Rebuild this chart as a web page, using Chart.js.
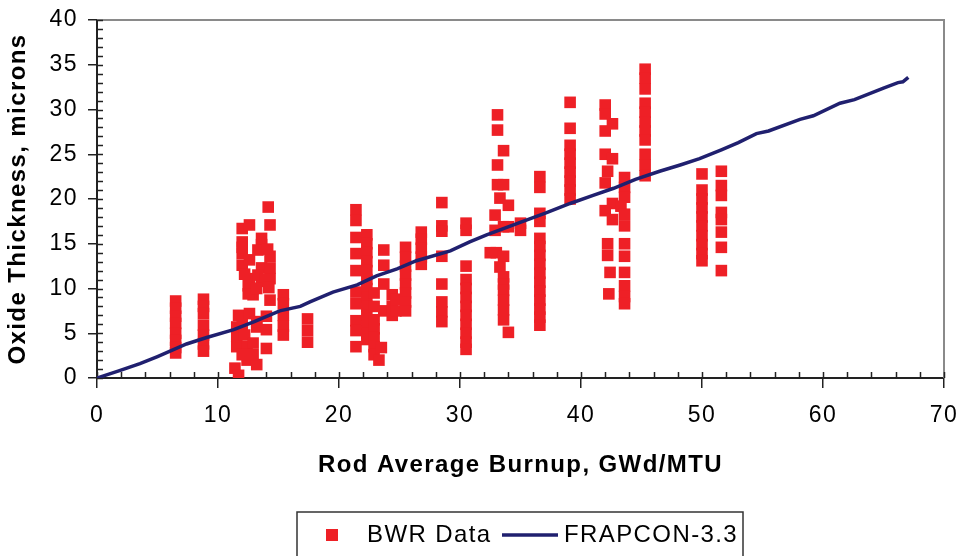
<!DOCTYPE html>
<html>
<head>
<meta charset="utf-8">
<script src="https://cdn.jsdelivr.net/npm/chart.js@4.4.1/dist/chart.umd.min.js"></script>
<style>
  html, body { margin: 0; padding: 0; background: #fff; }
  #wrap { width: 963px; height: 556px; position: relative; }
</style>
</head>
<body>
<div id="wrap"><canvas id="chart"></canvas></div>
<script>
const seriesNames = ["BWR Data", "FRAPCON-3.3"];
const xTitle = "Rod Average Burnup, GWd/MTU";
const yTitle = "Oxide Thickness, microns";

// measured BWR rods: burnup (GWd/MTU) and oxide (microns), one line per group
const bwrBurnup = [
    6.5, 6.5, 6.5, 6.5, 6.5, 6.5, 6.5, 6.5,
    8.8, 8.8, 8.8, 8.8, 8.8, 8.8, 8.8,
    11.4, 11.7, 11.55, 11.55, 11.55, 11.7, 12.0, 12.0, 12.0, 12.4,
    12.4, 12.6, 12.6, 12.6, 12.6, 12.9, 12.9, 13.2, 13.2, 13.2,
    13.6, 13.6, 13.6, 14.0, 14.0, 14.0, 14.15, 14.3, 14.3, 14.3,
    14.3, 14.3, 15.4, 15.4, 15.4, 15.4, 15.4,
    12.0, 12.0, 12.2, 12.5, 12.5, 13.3, 13.6, 14.1, 13.3, 13.9, 14.2, 13.2, 12.0, 12.2, 12.9, 12.9, 12.0,
    17.4, 17.4, 17.4,
    21.4, 21.4, 21.4, 21.4, 21.4, 21.4, 21.4, 21.4, 21.4, 21.4,
    22.3, 22.3, 22.3, 22.3, 22.3, 22.3, 22.3, 22.3, 22.3, 22.3, 22.3, 22.3, 22.3,
    22.9, 22.9, 22.9, 22.9, 22.9, 22.9, 22.9,
    23.7, 23.7, 23.7, 23.3, 23.5, 23.7, 24.4, 24.4, 24.4, 24.7, 24.7,
    25.5, 25.5, 25.5, 25.5, 25.5, 25.5, 25.5, 25.5,
    26.8, 26.8, 26.8, 26.8, 26.8,
    28.5, 28.5, 28.5, 28.5, 28.5, 28.5, 28.5, 28.5,
    30.5, 30.5, 30.5, 30.5, 30.5, 30.5, 30.5, 30.5, 30.5, 30.5, 30.5, 30.5,
    33.1, 33.1, 33.6, 33.1, 33.1, 33.6, 33.3, 34.0, 32.9, 33.6,
    34.0, 32.9, 32.5, 33.0, 33.6, 33.3, 33.6, 33.6, 33.6, 33.6,
    33.6, 33.6, 34.0,
    35.0, 35.0,
    36.6, 36.6, 36.6, 36.6, 36.6, 36.6, 36.6, 36.6, 36.6, 36.6, 36.6, 36.6, 36.6, 36.6, 36.6,
    39.1, 39.1, 39.1, 39.1, 39.1, 39.1, 39.1, 39.1, 39.1,
    42.0, 42.0, 42.6, 42.0, 42.0, 42.6, 42.2, 42.0, 42.6, 42.0, 42.6, 42.2, 42.2, 42.4, 42.3,
    43.6, 43.6, 43.6, 43.3, 43.6, 43.6, 43.6, 43.6, 43.6, 43.6, 43.6, 43.6,
    45.3, 45.3, 45.3, 45.3, 45.3, 45.3, 45.3, 45.3, 45.3, 45.3, 45.3,
    50.0, 50.0, 50.0, 50.0, 50.0, 50.0, 50.0, 50.0, 50.0, 50.0,
    51.6, 51.6, 51.6, 51.6, 51.6, 51.6, 51.6, 51.6,
];
const bwrOxide = [
    8.6, 7.8, 6.9, 6.1, 5.0, 4.2, 3.4, 2.8,
    8.8, 8.0, 7.2, 5.9, 4.8, 3.8, 3.0,
    1.1, 0.3, 3.5, 4.6, 5.7, 7.0, 12.6, 13.9, 16.7, 2.0,
    3.5, 7.2, 11.1, 13.2, 17.1, 10.0, 9.3, 1.5, 5.7, 6.3,
    12.3, 14.9, 10.8, 3.3, 5.4, 6.9, 19.1, 17.1, 13.6, 11.1,
    8.7, 12.3, 9.3, 8.3, 7.0, 5.8, 4.8,
    15.2, 14.6, 11.6, 10.3, 9.4, 14.3, 15.6, 14.4, 11.5, 11.0, 10.1, 10.0, 6.0, 4.8, 3.9, 2.6, 2.6,
    6.6, 5.3, 4.0,
    18.8, 17.6, 15.7, 13.9, 12.0, 9.6, 8.3, 6.4, 5.3, 3.5,
    16.0, 15.0, 14.0, 13.0, 12.0, 11.0, 10.0, 9.0, 8.0, 7.0, 6.0, 5.0, 4.3,
    9.5, 8.0, 6.5, 5.5, 4.5, 3.5, 2.6,
    14.3, 12.6, 10.5, 2.0, 3.4, 7.5, 9.3, 8.0, 7.0, 8.8, 7.5,
    14.6, 13.5, 12.5, 11.5, 10.5, 9.5, 8.5, 7.5,
    16.3, 15.5, 14.5, 13.5, 12.7,
    19.6, 17.0, 16.4, 13.6, 10.5, 8.5, 7.4, 6.3,
    17.3, 16.5, 12.5, 11.0, 10.0, 9.0, 8.0, 7.0, 6.0, 5.0, 4.0, 3.2,
    29.4, 27.7, 25.4, 23.8, 21.6, 21.6, 20.1, 19.3, 18.2, 16.9,
    16.9, 16.5, 14.0, 14.0, 13.6, 12.4, 11.3, 10.5, 9.8, 8.7,
    7.6, 6.5, 5.1,
    17.3, 16.5,
    22.5, 21.3, 18.4, 17.5, 15.6, 14.7, 13.7, 12.7, 11.7, 10.7, 9.7, 8.7, 7.7, 6.8, 5.9,
    30.8, 27.9, 26.0, 25.0, 24.0, 23.0, 22.0, 21.0, 20.0,
    30.5, 29.5, 28.4, 27.6, 25.0, 24.5, 23.1, 21.8, 19.5, 18.7, 17.7, 15.0, 13.7, 11.8, 9.4,
    22.4, 21.3, 20.2, 19.2, 18.3, 17.0, 15.0, 13.6, 11.8, 10.3, 9.1, 8.3,
    34.5, 33.5, 32.3, 30.7, 29.7, 28.6, 27.6, 26.6, 25.0, 23.8, 22.6,
    22.8, 21.0, 20.0, 19.0, 18.0, 17.0, 15.9, 14.9, 13.9, 13.1,
    23.1, 21.5, 20.4, 18.5, 17.7, 16.3, 14.6, 12.0,
];

// FRAPCON-3.3 prediction
const frapBurnup = [0, 1.8, 3.55, 5.0, 7.4, 9.0, 11.3, 13.0, 15.1, 16.8, 17.6, 19.5, 21.5, 23.1,
    24.8, 26.4, 29.2, 30.8, 32.2, 35.2, 37.0, 39.1, 41.0, 42.7, 44.5, 46.5, 48.2, 49.8,
    51.6, 53.0, 54.5, 55.5, 58.1, 59.2, 61.4, 62.6, 65.0, 66.2, 66.6, 67.05];
const frapOxide = [0, 0.8, 1.6, 2.4, 3.8, 4.5, 5.4, 6.3, 7.5, 8.0, 8.5, 9.6, 10.4, 11.4,
    12.2, 13.1, 14.2, 15.2, 16.0, 17.5, 18.4, 19.5, 20.4, 21.2, 22.2, 23.1, 23.8, 24.5,
    25.5, 26.3, 27.3, 27.6, 28.9, 29.3, 30.7, 31.1, 32.4, 33.0, 33.1, 33.6];

const fontFamily = '"Liberation Sans", Arial, sans-serif';
const redColor = "#ee2026";
const navyColor = "#20206f";

// minor ticks, plot frame (top/right), legend box, letter spacing
const framePlugin = {
    id: "frame",
    beforeDraw(chart) {
        chart.ctx.letterSpacing = "1.4px";
    },
    beforeDatasetsDraw(chart) {
        const { ctx, chartArea: a, scales } = chart;
        ctx.save();
        ctx.strokeStyle = "#8a8a8a";
        ctx.lineWidth = 2;
        ctx.beginPath();
        ctx.moveTo(a.left, a.top);
        ctx.lineTo(a.right, a.top);
        ctx.lineTo(a.right, a.bottom);
        ctx.stroke();

        ctx.strokeStyle = "#222";
        ctx.lineWidth = 1.5;
        ctx.beginPath();
        for (let v = 0; v <= 40; v += 1) {
            const y = Math.round(scales.y.getPixelForValue(v)) + 0.5;
            ctx.moveTo(a.left, y);
            ctx.lineTo(a.left + 6, y);
        }
        for (let v = 0; v <= 70; v += 2) {
            const x = Math.round(scales.x.getPixelForValue(v)) + 0.5;
            ctx.moveTo(x, a.bottom);
            ctx.lineTo(x, a.bottom - 6);
        }
        ctx.stroke();
        ctx.restore();
    },
    afterDraw(chart) {
        const ctx = chart.ctx;
        const ds = chart.data.datasets;
        ctx.save();
        ctx.strokeStyle = "#333";
        ctx.lineWidth = 1.5;
        ctx.strokeRect(297, 512, 446, 60);

        const cy = 535;
        ctx.fillStyle = ds[0].backgroundColor;
        ctx.fillRect(326, cy - 6, 12, 12);

        ctx.font = "24px " + fontFamily;
        ctx.fillStyle = "#000";
        ctx.textBaseline = "middle";
        ctx.textAlign = "left";
        ctx.fillText(ds[0].label, 367, cy);

        ctx.strokeStyle = ds[1].borderColor;
        ctx.lineWidth = 3.5;
        ctx.beginPath();
        ctx.moveTo(502, cy);
        ctx.lineTo(558, cy);
        ctx.stroke();
        ctx.fillText(ds[1].label, 564, cy);
        ctx.restore();
    },
};

const ctx = document.getElementById("chart").getContext("2d");
new Chart(ctx, {
    type: "scatter",
    data: {
        datasets: [
            {
                label: seriesNames[0],
                data: bwrBurnup.map((x, i) => ({ x: x, y: bwrOxide[i] })),
                backgroundColor: redColor,
                borderColor: redColor,
                borderWidth: 0,
                pointStyle: "rect",
                pointRadius: 8.2,
                order: 2,
            },
            {
                label: seriesNames[1],
                type: "line",
                data: frapBurnup.map((x, i) => ({ x: x, y: frapOxide[i] })),
                borderColor: navyColor,
                backgroundColor: navyColor,
                borderWidth: 3.5,
                pointRadius: 0,
                tension: 0,
                fill: false,
                order: 1,
            },
        ],
    },
    options: {
        responsive: true,
        maintainAspectRatio: false,
        animation: false,
        events: [],
        layout: { padding: { left: 0, top: 0, right: 0, bottom: 70 } },
        plugins: {
            legend: { display: false },
            tooltip: { enabled: false },
        },
        scales: {
            x: {
                type: "linear",
                min: 0,
                max: 70,
                afterFit: (s) => { s.height = 108; s.paddingRight = 19; },
                ticks: {
                    stepSize: 10,
                    padding: 14,
                    color: "#000",
                    font: { family: fontFamily, size: 23 },
                },
                grid: {
                    drawOnChartArea: false,
                    drawTicks: true,
                    tickLength: 10,
                    color: "#222",
                    lineWidth: 1.5,
                },
                border: { display: true, color: "#222", width: 2 },
                title: {
                    display: true,
                    text: xTitle,
                    color: "#000",
                    font: { family: fontFamily, size: 24, weight: "bold" },
                    padding: { top: 0, bottom: 6 },
                },
            },
            y: {
                type: "linear",
                min: 0,
                max: 40,
                afterFit: (s) => { s.width = 97; s.paddingTop = 20; },
                ticks: {
                    stepSize: 5,
                    padding: 10,
                    color: "#000",
                    font: { family: fontFamily, size: 23 },
                },
                grid: {
                    drawOnChartArea: false,
                    drawTicks: true,
                    tickLength: 9,
                    color: "#222",
                    lineWidth: 1.5,
                },
                border: { display: true, color: "#222", width: 2 },
                title: {
                    display: true,
                    text: yTitle,
                    color: "#000",
                    font: { family: fontFamily, size: 24, weight: "bold" },
                    padding: { top: 4, bottom: 0 },
                },
            },
        },
    },
    plugins: [framePlugin],
});
</script>
</body>
</html>
